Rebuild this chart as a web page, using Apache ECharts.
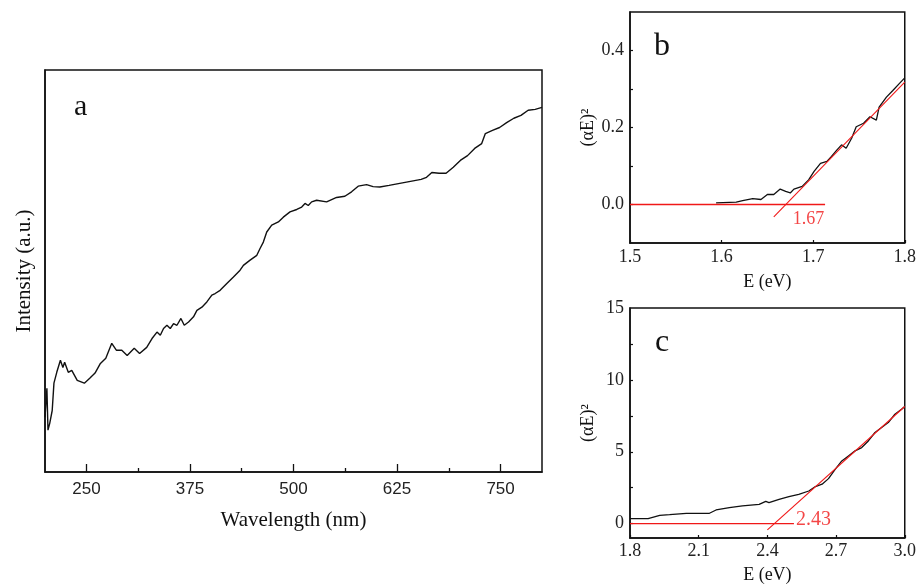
<!DOCTYPE html>
<html>
<head>
<meta charset="utf-8">
<script src="https://cdn.jsdelivr.net/npm/echarts@6/dist/echarts.min.js"></script>
<style>
  html, body { margin: 0; padding: 0; background: #fff; }
  #chart { width: 919px; height: 585px; }
</style>
</head>
<body>
<div id="chart"></div>
<script>
// panel a: emission spectrum
const wavelength = [200, 202.3, 203.6, 205.7, 208.7, 210.8, 214.2, 218.6, 221.6, 223.7, 228.1, 232.3, 238.9, 247.5,
  254, 260.4, 266.9, 273.4, 280.6, 286.1, 292.7, 299.2, 307.7, 314.2, 322.8,
  329.2, 335.2, 339.2, 343.1, 347.2, 351.2, 355.2, 359.3, 364.1, 368.1, 373.3, 379.3, 383.4, 389.4, 395.4,
  401.4, 405.4, 411.4, 419.5, 427.5, 435.5, 439.5, 447.6, 455.7, 459.6, 463.6, 467.7, 473.7, 481.7, 487.7,
  495.8, 503.9, 509.9, 513.9, 517.8, 521.9, 527.9, 540, 552, 562, 570.1, 578.1, 588.2, 596.1, 604.2,
  615.4, 628.3, 641.2, 654.1, 660.6, 667, 675.7, 684.2, 692.9, 701.4, 710.1, 718.7, 727.2, 731.6, 740.2,
  748.8, 757.3, 766, 774.6, 783.3, 791.8, 800]
const intensity = [13.6, 20.8, 10.4, 12.1, 15.3, 22.1, 24.8, 27.8, 26.0, 27.3, 24.8, 25.3, 22.8, 22.1,
  23.3, 24.6, 27.0, 28.3, 32.0, 30.3, 30.3, 29.0, 30.8, 29.5, 31.0,
  33.2, 34.8, 34.0, 35.7, 36.5, 35.7, 36.9, 36.5, 38.2, 36.5, 37.3, 38.6, 40.2, 41.0, 42.3,
  44.0, 44.4, 45.2, 46.9, 48.5, 50.2, 51.4, 52.7, 53.9, 55.6, 57.2, 59.7, 61.4, 62.2, 63.4,
  64.7, 65.3, 65.9, 66.8, 66.3, 67.2, 67.6, 67.2, 68.3, 68.6, 69.7, 71.1, 71.5, 71.0, 70.9,
  71.3, 71.8, 72.3, 72.8, 73.3, 74.5, 74.3, 74.3, 75.8, 77.5, 78.7, 80.5, 81.7, 84.2, 85.0,
  85.7, 86.9, 88.0, 88.7, 90.0, 90.2, 90.7]

// panel b: Tauc plot, 1.67 eV gap
const energyB = [1.594, 1.616, 1.623, 1.634, 1.643, 1.650, 1.657, 1.664, 1.670, 1.675, 1.679, 1.688, 1.695,
  1.701, 1.708, 1.715, 1.720, 1.726, 1.731, 1.736, 1.742, 1.747, 1.755, 1.762, 1.769, 1.772, 1.780, 1.787, 1.794, 1.800]
const taucB = [0.004, 0.006, 0.010, 0.015, 0.013, 0.026, 0.026, 0.040, 0.034, 0.030, 0.040, 0.047, 0.064,
  0.086, 0.107, 0.112, 0.125, 0.142, 0.155, 0.146, 0.172, 0.202, 0.211, 0.228, 0.219, 0.253, 0.279, 0.296, 0.314, 0.329]
const baseB = [[1.5, 0], [1.713, 0]]
const fitB = [[1.657, -0.032], [1.8, 0.318]]
const gapB = 1.67
const gapLabelB = [1.695, -0.039]

// panel c: Tauc plot, 2.43 eV gap
const energyC = [1.8, 1.879, 1.930, 1.973, 2.046, 2.147, 2.176, 2.234, 2.291, 2.364, 2.393, 2.407, 2.451, 2.494,
  2.537, 2.581, 2.610, 2.639, 2.667, 2.696, 2.725, 2.754, 2.783, 2.812, 2.841, 2.870, 2.899, 2.928, 2.957, 2.986, 3.0]
const taucC = [0.35, 0.35, 0.58, 0.63, 0.72, 0.72, 0.95, 1.11, 1.23, 1.34, 1.55, 1.46, 1.69, 1.88,
  2.04, 2.27, 2.58, 2.74, 3.13, 3.78, 4.36, 4.71, 5.06, 5.29, 5.75, 6.34, 6.69, 7.03, 7.61, 7.96, 8.15]
const baseC = [[1.8, 0], [2.516, 0]]
const fitC = [[2.40, -0.43], [3.0, 8.15]]
const gapC = 2.43
const gapLabelC = [2.602, 0.3]

// ticks
const aLabels = [250, 375, 500, 625, 750]
const aMinor = [312.5, 437.5, 562.5, 687.5]
const bxTicks = [1.5, 1.6, 1.7, 1.8]
const byLabels = [0, 0.2, 0.4]
const byTicks = [0, 0.1, 0.2, 0.3, 0.4]
const cxTicks = [1.8, 2.1, 2.4, 2.7, 3.0]
const cyLabels = [0, 5, 10, 15]
const cyTicks = [0, 2.5, 5, 7.5, 10, 12.5]

const serif = 'Liberation Serif'
const sans = 'Liberation Sans'
const ink = '#111'
const red = '#f01818'

const zip = (xs, ys) => xs.map((x, i) => [x, ys[i]])

const boxGrid = (pos) => Object.assign({ show: true, borderColor: ink, borderWidth: 1.5, backgroundColor: 'transparent' }, pos)

const fmt1 = v => v.toFixed(1)

function smallAxis(grid, min, max, ticks, labels, name, gap, labelExtra) {
    return {
        gridIndex: grid,
        type: 'value',
        min: min,
        max: max,
        axisLine: { onZero: false, lineStyle: { color: ink, width: 1.5 } },
        axisTick: { inside: true, length: 3, customValues: ticks, lineStyle: { color: ink, width: 1.2 } },
        axisLabel: Object.assign({ customValues: labels, fontFamily: serif, fontSize: 18, color: '#222', formatter: fmt1 }, labelExtra),
        splitLine: { show: false },
        name: name,
        nameLocation: 'middle',
        nameGap: gap,
        nameTextStyle: { fontFamily: serif, fontSize: 18, color: ink }
    }
}

// invisible anchor carrying a red text label
function gapLabel(xIdx, yIdx, coord, value, size) {
    return {
        type: 'scatter', xAxisIndex: xIdx, yAxisIndex: yIdx,
        data: [coord], symbol: 'circle', symbolSize: 1,
        itemStyle: { color: 'transparent' },
        label: { show: true, position: 'inside', formatter: () => value.toFixed(2), fontFamily: serif, fontSize: size, color: red },
        silent: true
    }
}

const chart = echarts.init(document.getElementById('chart'))

chart.setOption({
    animation: false,
    grid: [
        boxGrid({ left: 45, top: 70, width: 497, height: 402 }),
        boxGrid({ left: 630, top: 12, width: 277, height: 231 }),
        boxGrid({ left: 630, top: 308, width: 277, height: 231 })
    ],
    xAxis: [
        {
            gridIndex: 0, type: 'value', min: 200, max: 800, position: 'bottom',
            axisLine: { onZero: false, lineStyle: { color: ink, width: 1.5 } },
            axisTick: { inside: true, length: 8, customValues: aLabels, lineStyle: { color: ink, width: 1.3 } },
            axisLabel: { customValues: aLabels, fontFamily: sans, fontSize: 17, color: '#222', margin: 9 },
            splitLine: { show: false },
            name: 'Wavelength (nm)', nameLocation: 'middle', nameGap: 38,
            nameTextStyle: { fontFamily: serif, fontSize: 21, color: ink }
        },
        {
            gridIndex: 0, type: 'value', min: 200, max: 800, position: 'bottom',
            axisLine: { show: false, onZero: false },
            axisTick: { inside: true, length: 4, customValues: aMinor, lineStyle: { color: ink, width: 1.3 } },
            axisLabel: { show: false },
            splitLine: { show: false }
        },
        smallAxis(1, 1.5, 1.8, bxTicks, bxTicks, 'E (eV)', 30, { margin: 5 }),
        smallAxis(2, 1.8, 3.0, cxTicks, cxTicks, 'E (eV)', 28, { margin: 4 })
    ],
    yAxis: [
        {
            gridIndex: 0, type: 'value', min: 0, max: 100,
            axisLine: { lineStyle: { color: ink, width: 1.5 } },
            axisTick: { show: false },
            axisLabel: { show: false },
            splitLine: { show: false },
            name: 'Intensity (a.u.)', nameLocation: 'middle', nameGap: 10,
            nameTextStyle: { fontFamily: serif, fontSize: 21, color: ink }
        },
        smallAxis(1, -0.1, 0.5, byTicks, byLabels, '(αE)²', 33, { margin: 6 }),
        smallAxis(2, -1, 15, cyTicks, cyLabels, '(αE)²', 33, { margin: 6, formatter: v => String(v) })
    ],
    graphic: [
        { type: 'text', left: 74, top: 92, style: { text: 'a', font: '30px "Liberation Serif"', fill: ink } },
        { type: 'text', left: 654, top: 31, style: { text: 'b', font: '32px "Liberation Serif"', fill: ink } },
        { type: 'text', left: 655, top: 327, style: { text: 'c', font: '32px "Liberation Serif"', fill: ink } }
    ],
    series: [
        {
            type: 'line', xAxisIndex: 0, yAxisIndex: 0, data: zip(wavelength, intensity),
            symbol: 'none', lineStyle: { color: ink, width: 1.4 }
        },
        {
            type: 'line', xAxisIndex: 2, yAxisIndex: 1, data: zip(energyB, taucB),
            symbol: 'none', lineStyle: { color: ink, width: 1.3 }
        },
        {
            type: 'line', xAxisIndex: 2, yAxisIndex: 1, data: baseB,
            symbol: 'none', lineStyle: { color: red, width: 1.4 }
        },
        {
            type: 'line', xAxisIndex: 2, yAxisIndex: 1, data: fitB,
            symbol: 'none', lineStyle: { color: red, width: 1.1 }
        },
        gapLabel(2, 1, gapLabelB, gapB, 18),
        {
            type: 'line', xAxisIndex: 3, yAxisIndex: 2, data: zip(energyC, taucC),
            symbol: 'none', lineStyle: { color: ink, width: 1.3 }
        },
        {
            type: 'line', xAxisIndex: 3, yAxisIndex: 2, data: baseC,
            symbol: 'none', lineStyle: { color: red, width: 1.4 }
        },
        {
            type: 'line', xAxisIndex: 3, yAxisIndex: 2, data: fitC,
            symbol: 'none', lineStyle: { color: red, width: 1.1 }
        },
        gapLabel(3, 2, gapLabelC, gapC, 20)
    ]
})
</script>
</body>
</html>
